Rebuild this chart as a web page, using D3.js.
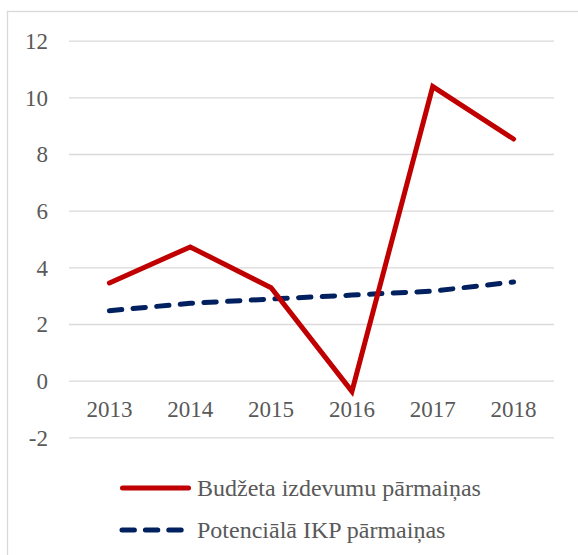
<!DOCTYPE html>
<html>
<head>
<meta charset="utf-8">
<script src="https://cdn.jsdelivr.net/npm/d3@7"></script>
<style>
  body { margin: 0; background: #fff; }
  svg text { font-family: "Liberation Serif", "Times New Roman", serif; fill: #595959; }
</style>
</head>
<body>
<div class="chart"></div>
<script>
// chart values
const years = ['2013', '2014', '2015', '2016', '2017', '2018']
const budget = [3.45, 4.72, 3.28, -0.38, 10.38, 8.53]
const potential = [2.47, 2.73, 2.88, 3.02, 3.16, 3.48]
const yTicks = [-2, 0, 2, 4, 6, 8, 10, 12]
const seriesNames = ['Budžeta izdevumu pārmaiņas', 'Potenciālā IKP pārmaiņas']

const width = 578
const height = 555
const plot = {left: 69, right: 554, top: 40.7, bottom: 437.3}

const svg = d3.select('.chart')
    .append('svg')
    .attr('width', width)
    .attr('height', height)

// outer frame
svg.append('rect')
    .attr('x', 7.5)
    .attr('y', 11.5)
    .attr('width', 700)
    .attr('height', 700)
    .attr('fill', 'none')
    .attr('stroke', '#d9d9d9')
    .attr('stroke-width', 1.3)

const xScale = d3.scaleBand()
    .domain(years)
    .range([plot.left, plot.right])

const yScale = d3.scaleLinear()
    .domain([-2, 12])
    .range([plot.bottom, plot.top])

const cx = d => xScale(d) + xScale.bandwidth() / 2

// gridlines + y labels
const yAxis = d3.axisLeft(yScale)
    .tickValues(yTicks)
    .tickSize(-(plot.right - plot.left))
    .tickPadding(21)
    .tickFormat(d => String(d))   // plain hyphen for -2

const gy = svg.append('g')
    .attr('transform', 'translate(' + plot.left + ',0)')
    .call(yAxis)
gy.select('.domain').remove()
gy.selectAll('line').attr('stroke', '#d9d9d9').attr('stroke-width', 1.3)
gy.selectAll('text')
    .attr('font-size', '23px')
    .attr('dy', '0.34em')
    .style('font-family', '"Liberation Serif", "Times New Roman", serif')
    .attr('fill', '#595959')

// x labels (sit under the zero line)
const xAxis = d3.axisBottom(xScale).tickSize(0).tickPadding(0)
const gx = svg.append('g')
    .attr('transform', 'translate(0,' + yScale(0) + ')')
    .call(xAxis)
gx.select('.domain').remove()
gx.selectAll('text')
    .attr('font-size', '23px')
    .attr('y', 36)
    .attr('dy', 0)
    .style('font-family', '"Liberation Serif", "Times New Roman", serif')
    .attr('fill', '#595959')

// lines
const line = d3.line()
    .x((d, i) => cx(years[i]))
    .y(d => yScale(d))

svg.append('path')
    .datum(potential)
    .attr('d', line)
    .attr('fill', 'none')
    .attr('stroke', '#002060')
    .attr('stroke-width', 5)
    .attr('stroke-linecap', 'round')
    .attr('stroke-dasharray', '12.4,11.3')

svg.append('path')
    .datum(budget)
    .attr('d', line)
    .attr('fill', 'none')
    .attr('stroke', '#c00000')
    .attr('stroke-width', 5)
    .attr('stroke-linecap', 'round')
    .attr('stroke-linejoin', 'miter')

// legend
const legend = svg.append('g')
legend.append('line')
    .attr('x1', 122.5).attr('x2', 188.5)
    .attr('y1', 488).attr('y2', 488)
    .attr('stroke', '#c00000')
    .attr('stroke-width', 5)
    .attr('stroke-linecap', 'round')
legend.append('text')
    .attr('x', 197)
    .attr('y', 496)
    .attr('font-size', '24px')
    .text(seriesNames[0])

legend.append('line')
    .attr('x1', 122).attr('x2', 181.3)
    .attr('y1', 530).attr('y2', 530)
    .attr('stroke', '#002060')
    .attr('stroke-width', 5)
    .attr('stroke-linecap', 'round')
    .attr('stroke-dasharray', '12.4,11')
legend.append('text')
    .attr('x', 197)
    .attr('y', 538)
    .attr('font-size', '24px')
    .text(seriesNames[1])
</script>
</body>
</html>
